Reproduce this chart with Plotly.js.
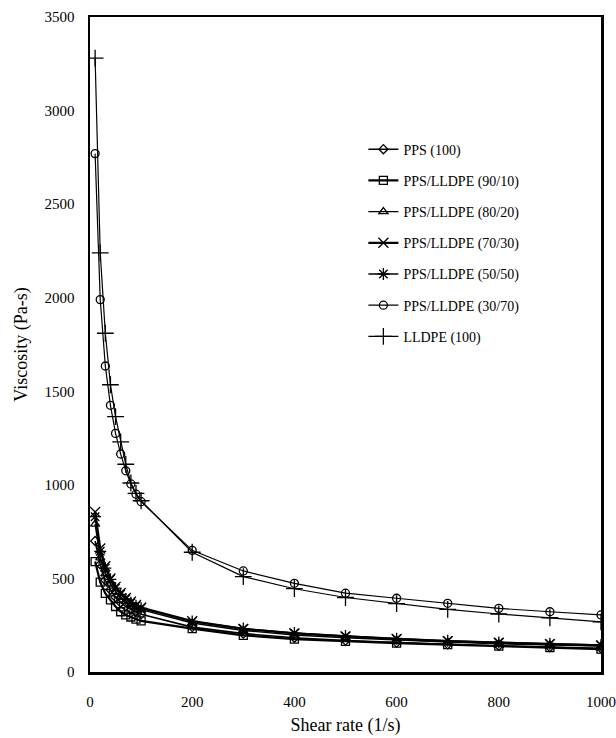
<!DOCTYPE html>
<html>
<head>
<meta charset="utf-8">
<script src="https://cdn.plot.ly/plotly-3.0.1.min.js"></script>
<style>html,body{margin:0;padding:0;background:#fff;}#chart{width:616px;height:738px;}</style>
</head>
<body>
<div id="chart"></div>
<script>
const shearRate = [10,20,30,40,50,60,70,80,90,100,200,300,400,500,600,700,800,900,1000];
const seriesNames = ["PPS (100)","PPS/LLDPE (90/10)","PPS/LLDPE (80/20)","PPS/LLDPE (70/30)","PPS/LLDPE (50/50)","PPS/LLDPE (30/70)","LLDPE (100)"];
const pps100   = [700,575,490,440,400,372,350,334,320,308,240,205,183,168,157,148,140,133,127];
const pps9010  = [590,480,420,385,350,322,305,294,283,273,232,196,176,164,154,146,138,131,122];
const pps8020  = [790,610,525,470,430,400,378,360,346,333,262,222,198,183,170,160,151,145,138];
const pps7030  = [855,660,565,500,455,422,395,375,358,345,272,230,206,190,176,165,156,149,142];
const pps5050  = [830,645,555,495,448,415,390,370,354,340,270,232,208,192,178,167,158,151,144];
const pps3070  = [2770,1990,1635,1425,1275,1165,1075,1005,950,910,650,540,474,421,394,367,340,322,305];
const lldpe100 = [3280,2240,1810,1535,1365,1230,1110,1010,955,915,640,510,445,398,365,335,310,290,268];

const values  = [pps100,pps9010,pps8020,pps7030,pps5050,pps3070,lldpe100];
const symbols = ["diamond-open","square-open","triangle-up-open","x-thin-open","asterisk-open","circle-open","cross-thin-open"];
const widths  = [1.6,2.2,1.4,2.2,1.6,1.2,1.2];
const msizes  = [7,8,8,10,10,8,12];

const traces = values.map((v,i)=>({
  x: shearRate, y: v, name: seriesNames[i], type:'scatter', mode:'lines+markers',
  legendgroup: 'g'+i,
  line:{color:'#000', width:widths[i]},
  marker:{symbol:symbols[i], size:msizes[i], color:'#000', line:{color:'#000', width:1.3}}
}));

const serif = "Times New Roman, Liberation Serif, serif";
const layout = {
  width:616, height:738,
  margin:{l:90, r:15, t:17, b:66},
  paper_bgcolor:'#fff', plot_bgcolor:'#fff',
  font:{family:serif, color:'#000', size:15},
  showlegend:true,
  legend:{x:0.535, y:0.822, xanchor:'left', yanchor:'top', bgcolor:'rgba(0,0,0,0)',
          font:{family:serif, size:14, color:'#000'}, tracegroupgap:10, traceorder:'grouped'},
  xaxis:{range:[0,1000], dtick:200, tick0:0, showgrid:false, zeroline:false,
         showline:true, mirror:true, linecolor:'#000', linewidth:2.5, ticks:'',
         ticklabelstandoff:14, tickfont:{family:serif, size:15},
         title:{text:'Shear rate (1/s)', font:{family:serif, size:18}, standoff:10}},
  yaxis:{range:[0,3500], dtick:500, tick0:0, showgrid:false, zeroline:false,
         showline:true, mirror:true, linecolor:'#000', linewidth:2.5, ticks:'',
         ticklabelstandoff:10, tickfont:{family:serif, size:15},
         title:{text:'Viscosity (Pa-s)', font:{family:serif, size:18}, standoff:12}}
};
Plotly.newPlot('chart', traces, layout, {displayModeBar:false, staticPlot:true});
</script>
</body>
</html>
